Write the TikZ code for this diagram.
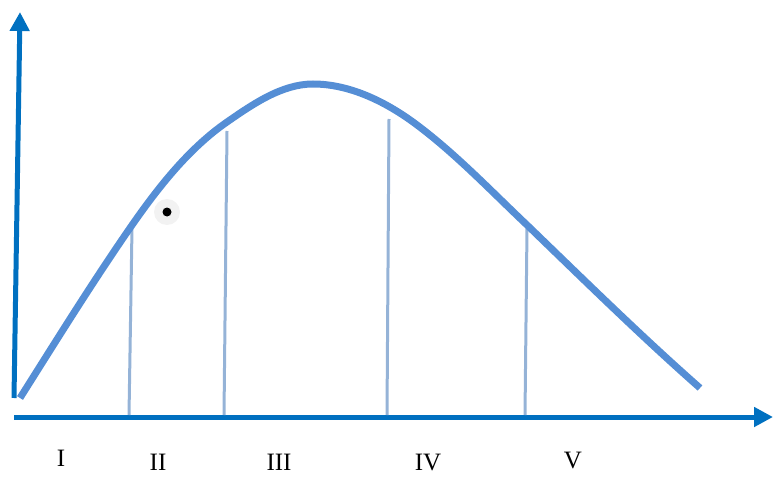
\documentclass[tikz,border=0pt]{standalone}
\usepackage{fontspec}
\setmainfont{Liberation Serif}
\usetikzlibrary{arrows.meta}
\definecolor{axisblue}{HTML}{0070C0}
\definecolor{curveblue}{HTML}{558ED5}
\definecolor{divblue}{HTML}{95B3D7}
\definecolor{halo}{HTML}{F2F2F2}
\tikzset{
  axisline/.style={draw=axisblue, line width=5pt, -{Triangle[width=19pt,length=19pt]}},
  divider/.style={draw=divblue, line width=3pt},
  phaselabel/.style={font=\fontsize{25}{28}\selectfont, inner sep=0pt}
}
\begin{document}
\begin{tikzpicture}[x=1pt,y=-1pt]
\useasboundingbox (0,0) rectangle (773,489);
% axes
\coordinate (yb) at (14,398);
\coordinate (yt) at (20,12);
\coordinate (xl) at (14,417);
\coordinate (xr) at (773,417);
\draw[axisline] (yb) -- (yt);
\draw[axisline] (xl) -- (xr);
% dividers
\foreach \bx/\tx/\ty [count=\i] in {129/132/228, 224/227/131, 387/389/119, 525/527/228}{
  \coordinate (d\i b) at (\bx,415);
  \coordinate (d\i t) at (\tx,\ty);
  \draw[divider] (d\i b) -- (d\i t);
}
% curve
\coordinate (c0) at (20,398);
\coordinate (c1) at (130,228);
\coordinate (c2) at (227,122);
\coordinate (c3) at (313,84);
\coordinate (c4) at (413,122);
\coordinate (c5) at (527,225);
\coordinate (c6) at (700,388);
\draw[curveblue, line width=7pt]
  (c0) .. controls (56,341) and (92,283) .. (c1)
       .. controls (157,189) and (188,149) .. (c2)
       .. controls (253,104) and (282,84) .. (c3)
       .. controls (349,84) and (384,101) .. (c4)
       .. controls (454,152) and (490,190) .. (c5)
       .. controls (584,280) and (641,336) .. (c6);
% dot
\fill[halo] (167,212) circle (13);
\fill[black] (167,212) circle (4.5);
% labels
\node[phaselabel] (l1) at (61,458) {I};
\node[phaselabel] (l2) at (158,462) {II};
\node[phaselabel] (l3) at (279,462) {III};
\node[phaselabel] (l4) at (428,463) {IV};
\node[phaselabel] (l5) at (573,461) {V};
\end{tikzpicture}
\end{document}
